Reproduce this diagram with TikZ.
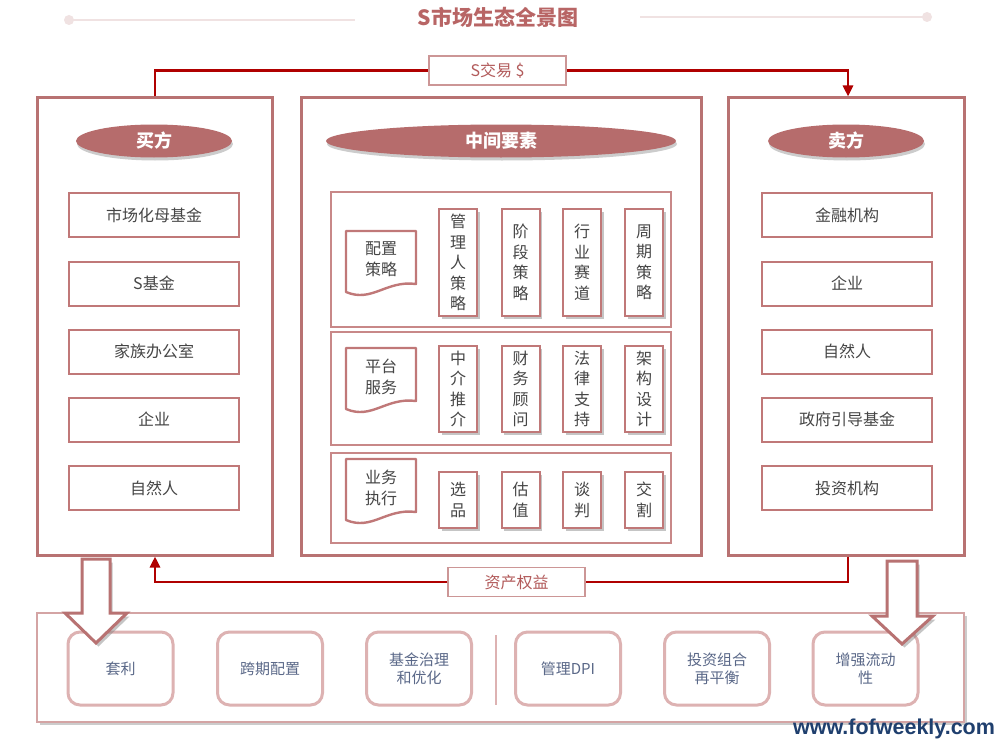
\documentclass[tikz,border=0pt]{standalone}
\usepackage{fontspec}
\setmainfont{Noto Sans CJK SC}
\newfontfamily\urlfont{Liberation Sans}
\usetikzlibrary{shapes.geometric,arrows.meta,shadows}
\definecolor{frameC}{HTML}{B87272}
\definecolor{pillC}{HTML}{B66C6C}
\definecolor{itemC}{HTML}{C07878}
\definecolor{panelC}{HTML}{C88888}
\definecolor{bitemC}{HTML}{DDB2B2}
\definecolor{bpanelC}{HTML}{D4A4A4}
\definecolor{btextC}{HTML}{5A6888}
\definecolor{textC}{HTML}{454545}
\definecolor{lblC}{HTML}{CC9696}
\definecolor{lblTextC}{HTML}{B25A5A}
\definecolor{connC}{HTML}{B00000}
\definecolor{titleC}{HTML}{B86565}
\definecolor{decoC}{HTML}{F0E2E2}
\definecolor{urlC}{HTML}{1F3F6E}
\tikzset{
  frame/.style={draw=frameC, line width=3pt, fill=white, minimum height=457pt, inner sep=0},
  pill/.style={ellipse, fill=pillC, text=white, inner sep=0, minimum height=33pt,
    font=\fontsize{18}{20}\selectfont\bfseries,
    drop shadow={shadow xshift=1pt, shadow yshift=-3pt, opacity=0.4}},
  item/.style={draw=itemC, line width=2pt, minimum width=170pt, minimum height=44pt,
    text=textC, font=\fontsize{16}{18}\selectfont, inner sep=0},
  panel/.style={draw=panelC, line width=1.2pt, minimum width=340pt, inner sep=0},
  vbox/.style={draw=itemC, line width=2pt, fill=white, minimum width=38pt, align=center,
    text=textC, font=\fontsize{16}{20.5}\selectfont, inner sep=0,
    drop shadow={shadow xshift=2.5pt, shadow yshift=-3pt, opacity=0.45}},
  docpath/.style={draw=itemC, line width=2.4pt, fill=white, line join=round},
  doctext/.style={align=center, text=textC, font=\fontsize{16}{21}\selectfont, inner sep=0},
  bitem/.style={draw=bitemC, line width=3pt, rounded corners=12pt, minimum width=105pt,
    minimum height=73pt, text=btextC, align=center, font=\fontsize{15}{18}\selectfont, inner sep=0},
  lbl/.style={draw=lblC, line width=1.2pt, fill=white, text=lblTextC,
    font=\fontsize{16}{18}\selectfont, minimum width=137pt, minimum height=29pt, inner sep=0},
  conn/.style={draw=connC, line width=2.8pt},
  tip/.style={-{Triangle[length=11pt,width=10pt]}},
  blockarrow/.style={draw=frameC, line width=3pt, fill=white, line join=miter,
    drop shadow={shadow xshift=2.5pt, shadow yshift=-3.5pt, opacity=0.45}},
}
\begin{document}
\begin{tikzpicture}[x=1pt, y=-1pt]
\useasboundingbox[fill=white] (0,0) rectangle (1000,741);

% title
\draw[decoC, line width=2pt] (69,20) -- (355,20);
\fill[decoC] (69,20) circle (5pt);
\draw[decoC, line width=2pt] (640,17) -- (927,17);
\fill[decoC] (927,17) circle (5pt);
\node[text=titleC, font=\fontsize{21}{24}\selectfont\bfseries] (title) at (498,17) {S市场生态全景图};

% frames
\node[frame, minimum width=235pt] (buyer) at (154.5,326.5) {};
\node[frame, minimum width=400pt] (mid) at (501,326.5) {};
\node[frame, minimum width=236pt] (seller) at (846,326.5) {};

% headers
\node[pill, minimum width=156pt] (hb) at (154,141) {买方};
\node[pill, minimum width=350pt] (hm) at (501,141) {中间要素};
\node[pill, minimum width=156pt] (hs) at (846,141) {卖方};

% buyer items
\node[item] (b1) at (154,215) {市场化母基金};
\node[item] (b2) at (154,283.5) {S基金};
\node[item] (b3) at (154,351.5) {家族办公室};
\node[item] (b4) at (154,419.5) {企业};
\node[item] (b5) at (154,488) {自然人};

% seller items
\node[item] (s1) at (847,215) {金融机构};
\node[item] (s2) at (847,283.5) {企业};
\node[item] (s3) at (847,351.5) {自然人};
\node[item] (s4) at (847,419.5) {政府引导基金};
\node[item] (s5) at (847,488) {投资机构};

% middle panels
\node[panel, minimum height=135pt] (p1) at (501,259.5) {};
\node[panel, minimum height=113pt] (p2) at (501,388.5) {};
\node[panel, minimum height=90pt] (p3) at (501,498) {};

% document shapes
\draw[docpath] (346,231) -- (416,231) -- (416,284) .. controls (386,280) and (372,303) .. (346,292) -- cycle;
\node[doctext] (d1) at (381,259) {配置\\策略};
\draw[docpath] (346,348) -- (416,348) -- (416,401) .. controls (386,397) and (372,420) .. (346,409) -- cycle;
\node[doctext] (d2) at (381,377) {平台\\服务};
\draw[docpath] (346,459) -- (416,459) -- (416,512) .. controls (386,508) and (372,531) .. (346,520) -- cycle;
\node[doctext] (d3) at (381,488) {业务\\执行};

% vertical boxes panel 1
\node[vbox, minimum height=107pt] (v11) at (458,262.5) {管\\理\\人\\策\\略};
\node[vbox, minimum height=107pt] (v12) at (520.5,262.5) {阶\\段\\策\\略};
\node[vbox, minimum height=107pt] (v13) at (582,262.5) {行\\业\\赛\\道};
\node[vbox, minimum height=107pt] (v14) at (644,262.5) {周\\期\\策\\略};
% panel 2
\node[vbox, minimum height=86pt] (v21) at (458,389) {中\\介\\推\\介};
\node[vbox, minimum height=86pt] (v22) at (520.5,389) {财\\务\\顾\\问};
\node[vbox, minimum height=86pt] (v23) at (582,389) {法\\律\\支\\持};
\node[vbox, minimum height=86pt] (v24) at (644,389) {架\\构\\设\\计};
% panel 3
\node[vbox, minimum height=56pt] (v31) at (458,500) {选\\品};
\node[vbox, minimum height=56pt] (v32) at (520.5,500) {估\\值};
\node[vbox, minimum height=56pt] (v33) at (582,500) {谈\\判};
\node[vbox, minimum height=56pt] (v34) at (644,500) {交\\割};

% connectors
\coordinate (tl) at (155,70);
\coordinate (tr) at (848,70);
\node[lbl] (trade) at (497.5,70.5) {S交易 \$};
\draw[conn] (buyer.north -| tl) |- (trade.west);
\draw[conn, tip] (trade.east) -| (seller.north -| tr);

\coordinate (bl) at (155,584);
\node[lbl] (asset) at (516.5,582) {资产权益};
\draw[conn] (seller.south -| tr) |- (asset.east);
\draw[conn, tip] (asset.west) -| (buyer.south -| bl);

% bottom panel
\node[draw=bpanelC, line width=2pt, fill=white, minimum width=927pt, minimum height=109pt, inner sep=0,
  drop shadow={shadow xshift=3pt, shadow yshift=-3pt, opacity=0.4}] (bottom) at (500.5,667.5) {};
\node[bitem] (o1) at (120.5,668.5) {套利};
\node[bitem] (o2) at (270,668.5) {跨期配置};
\node[bitem] (o3) at (419,668.5) {基金治理\\和优化};
\node[bitem] (o4) at (568,668.5) {管理DPI};
\node[bitem] (o5) at (717,668.5) {投资组合\\再平衡};
\node[bitem] (o6) at (865.5,668.5) {增强流动\\性};
\draw[bitemC, line width=1.5pt] (496,635) -- (496,705);

% block arrows
\draw[blockarrow] (82,559) -- (110,559) -- (110,613) -- (127,613) -- (96,643) -- (65,613) -- (82,613) -- cycle;
\draw[blockarrow] (887,561) -- (917,561) -- (917,616) -- (933,616) -- (902,644) -- (872,616) -- (887,616) -- cycle;

% url
\node[text=urlC, font=\urlfont\bfseries\fontsize{21.5}{24}\selectfont, inner sep=0] (url) at (894,729) {www.fofweekly.com};
\end{tikzpicture}
\end{document}
